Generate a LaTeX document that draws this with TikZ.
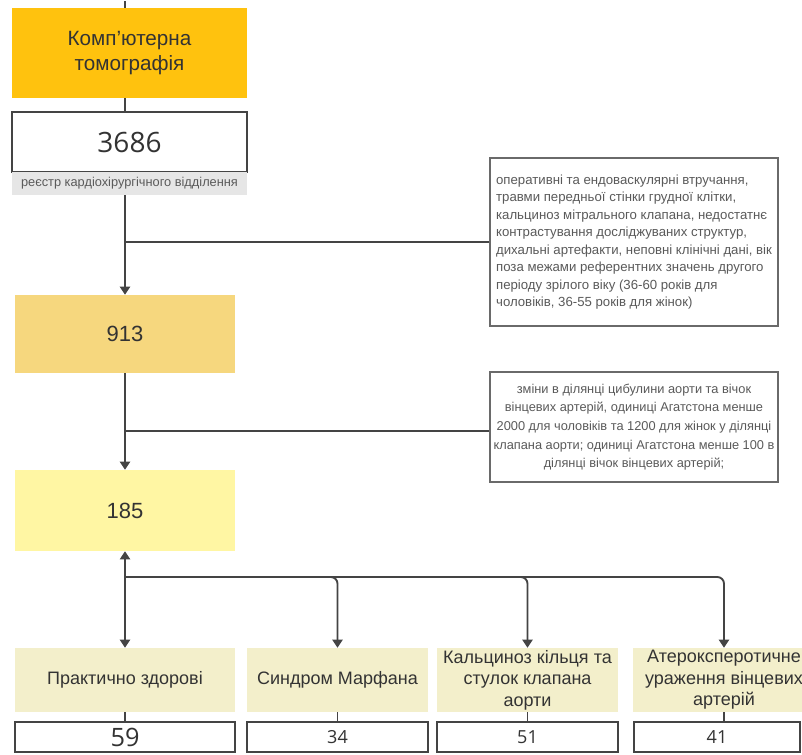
\documentclass[tikz,border=0pt]{standalone}
\usepackage{fontspec}
\setmainfont{Liberation Sans}
\newfontfamily\numfont{Open Sans}
\usetikzlibrary{arrows.meta}
\definecolor{ctorange}{HTML}{FFC20E}
\definecolor{amberbox}{HTML}{F6D77E}
\definecolor{yellowbox}{HTML}{FFF6A3}
\definecolor{beigebox}{HTML}{F3EFCB}
\definecolor{stripgray}{HTML}{E6E6E6}
\definecolor{linecol}{HTML}{444444}
\definecolor{txtdark}{HTML}{333333}
\definecolor{notetxt}{HTML}{5A5A5A}
\definecolor{noteborder}{HTML}{6A6A6A}
\tikzset{
  fillbox/.style={inner sep=0pt, align=center, text=txtdark},
  numbox/.style={draw=linecol, line width=1.3pt, fill=white, inner sep=0pt, align=center, text=txtdark},
  notebox/.style={draw=noteborder, line width=1.2pt, fill=white, inner sep=0pt, text=notetxt,
                  font=\fontsize{9.9}{13.1}\selectfont},
  conn/.style={draw=linecol, line width=1.4pt},
  arr/.style={conn, -{Triangle[length=6pt,width=7.5pt]}},
  darr/.style={conn, {Triangle[length=6pt,width=7.5pt]}-{Triangle[length=6pt,width=7.5pt]}},
}
\begin{document}
\begin{tikzpicture}[x=0.75pt,y=-0.75pt]
\useasboundingbox (0,0) rectangle (802,754);
\fill[white] (0,0) rectangle (802,754);

% top column
\node[fillbox, fill=ctorange, minimum width=176.25pt, minimum height=67.5pt,
      font=\fontsize{15.5}{19}\selectfont] (ct) at (129.5,53) {Комп'ютерна\\томографія};
\node[numbox, minimum width=176.25pt, minimum height=45pt,
      font=\numfont\fontsize{21}{24}\selectfont] (n3686) at (129.5,142) {3686};
\node[fillbox, fill=stripgray, minimum width=176.25pt, minimum height=17.25pt,
      text=notetxt, font=\fontsize{9.6}{11}\selectfont] (reg) at (129.5,183.5) {реєстр кардіохірургічного відділення};
\node[fillbox, fill=amberbox, minimum width=165pt, minimum height=58.5pt,
      font=\fontsize{16.5}{19}\selectfont] (n913) at (125,334) {913};
\node[fillbox, fill=yellowbox, minimum width=165pt, minimum height=60.75pt,
      font=\fontsize{16.5}{19}\selectfont] (n185) at (125,510.5) {185};

% notes
\node[notebox, minimum width=216pt, minimum height=126pt, align=left] (note1) at (634,242)
 {оперативні та ендоваскулярні втручання,\\
  травми передньої стінки грудної клітки,\\
  кальциноз мітрального клапана, недостатнє\\
  контрастування досліджуваних структур,\\
  дихальні артефакти, неповні клінічні дані, вік\\
  поза межами референтних значень другого\\
  періоду зрілого віку (36-60 років для\\
  чоловіків, 36-55 років для жінок)};
\node[notebox, minimum width=216pt, minimum height=82.5pt, align=center,
      font=\fontsize{9.6}{14}\selectfont] (note2) at (634,427)
 {зміни в ділянці цибулини аорти та вічок\\
  вінцевих артерій, одиниці Агатстона менше\\
  2000 для чоловіків та 1200 для жінок у ділянці\\
  клапана аорти; одиниці Агатстона менше 100 в\\
  ділянці вічок вінцевих артерій;};

% bottom categories
\tikzset{catbox/.style={fillbox, fill=beigebox, minimum height=48pt, font=\fontsize{13.5}{16.2}\selectfont}}
\node[catbox, minimum width=165pt] (c1) at (125,680) {Практично здорові};
\node[catbox, minimum width=135.75pt] (c2) at (337.5,680) {Синдром Марфана};
\node[catbox, minimum width=135.75pt] (c3) at (527.5,680) {Кальциноз кільця та\\стулок клапана\\аорти};
\node[catbox, minimum width=136.5pt] (c4) at (724,680) {Атероксперотичне\\ураження вінцевих\\артерій};

\node[numbox, minimum width=165pt, minimum height=22.5pt, font=\numfont\fontsize{19}{20}\selectfont] (v1) at (125,737) {59};
\node[numbox, minimum width=135.75pt, minimum height=22.5pt, font=\numfont\fontsize{13.5}{15}\selectfont] (v2) at (337.5,737) {34};
\node[numbox, minimum width=135.75pt, minimum height=22.5pt, font=\numfont\fontsize{13.5}{15}\selectfont] (v3) at (527.5,737) {51};
\node[numbox, minimum width=124.5pt, minimum height=22.5pt, font=\numfont\fontsize{13.5}{15}\selectfont] (v4) at (717,737) {41};

% connectors
\coordinate (top) at (125,1);
\coordinate (j1) at (125,242);
\coordinate (j2) at (125,431);
\coordinate (br) at (125,577);
\draw[conn] (top) -- (top |- ct.north);
\draw[conn] (ct.south -| n913.center) -- (n3686.north -| n913.center);
\draw[arr] (reg.south -| n913.center) -- (n913.north);
\draw[conn] (j1) -- (note1.west);
\draw[arr] (n913.south) -- (n185.north);
\draw[conn] (j2) -- (j2 -| note2.west);
\draw[darr] (n185.south) -- (c1.north);
\draw[arr, rounded corners=5pt] (br) -| (c2.north);
\draw[arr, rounded corners=5pt] (br) -| (c3.north);
\draw[arr, rounded corners=5pt] (br) -| (c4.north);
\draw[conn, line width=1pt] (c1.south) -- (v1.north);
\draw[conn, line width=1pt] (c2.south) -- (v2.north);
\draw[conn, line width=1pt] (c3.south) -- (v3.north);
\draw[conn, line width=1pt] (c4.south) -- (c4.south |- v4.north);
\end{tikzpicture}
\end{document}
